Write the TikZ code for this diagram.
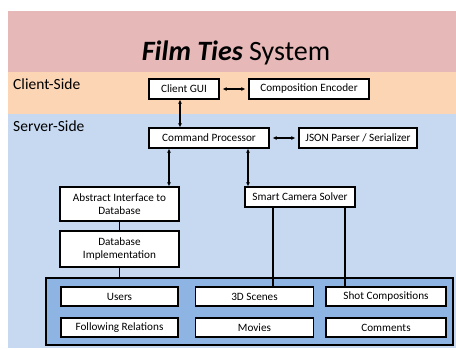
\documentclass[tikz,border=0pt]{standalone}
\usepackage{fontspec}
\setmainfont{Carlito}
\usetikzlibrary{arrows.meta}
\definecolor{bandpink}{HTML}{E6B9B8}
\definecolor{bandorange}{HTML}{FCD5B5}
\definecolor{bandblue}{HTML}{C6D9F1}
\definecolor{storeblue}{HTML}{8EB4E3}
\tikzset{
  block/.style={draw, line width=1.3pt, fill=white, inner sep=1pt, align=center,
    font=\fontsize{11.2}{12.5}\selectfont, minimum height=20pt},
  link/.style={line width=1.3pt},
  biarrow/.style={line width=1.3pt, {Latex[length=4pt,width=4pt]}-{Latex[length=4pt,width=4pt]}},
  sidelabel/.style={anchor=west, inner sep=0pt, font=\fontsize{15.5}{17}\selectfont}
}
\begin{document}
\begin{tikzpicture}[x=1pt,y=-1pt]
\useasboundingbox (0,0) rectangle (456,349);
\fill[bandpink] (8,11) rectangle (456,72);
\fill[bandorange] (8,72) rectangle (456,114);
\fill[bandblue] (8,114) rectangle (456,348);
\node (title) at (236,53) {\fontsize{28}{30}\selectfont{\bfseries\itshape Film Ties} System};
\node[sidelabel] (client) at (13,84) {Client-Side};
\node[sidelabel] (server) at (13,126) {Server-Side};
\node[block, minimum width=70pt] (gui) at (184,89) {Client GUI};
\node[block, minimum width=120pt] (enc) at (309,89) {Composition Encoder};
\node[block, minimum width=120pt] (cmd) at (209,138) {Command Processor};
\node[block, minimum width=118pt] (json) at (358,138) {JSON Parser / Serializer};
\node[block, minimum width=119pt, minimum height=34pt] (abs) at (119.5,204) {Abstract Interface to\\Database};
\node[block, minimum width=110pt] (smart) at (300,197) {Smart Camera Solver};
\node[block, minimum width=119pt, minimum height=36pt] (dbi) at (119.5,249) {Database\\Implementation};
\node[draw, line width=1.1pt, fill=storeblue, minimum width=407pt, minimum height=67pt] (store) at (249.5,311.5) {};
\node[block, minimum width=117pt, minimum height=19pt] (users) at (119.5,296.5) {Users};
\node[block, minimum width=117pt, minimum height=19pt] (follow) at (119.5,327.5) {Following Relations};
\node[block, minimum width=118pt, minimum height=19pt] (scenes) at (254.5,296.5) {3D Scenes};
\node[block, minimum width=118pt, minimum height=19pt] (movies) at (254.5,327.5) {Movies};
\node[block, minimum width=120pt, minimum height=19pt] (shots) at (386,296.5) {Shot Compositions};
\node[block, minimum width=120pt, minimum height=19pt] (comments) at (386,327.5) {Comments};
\draw[biarrow, shorten <=3pt, shorten >=3pt] (gui.east) -- (enc.west);
\draw[biarrow, shorten <=3pt, shorten >=3pt] (cmd.east) -- (json.west);
\draw[biarrow] ([xshift=-4pt]gui.south) -- ([xshift=-4pt]gui.south |- cmd.north);
\draw[biarrow] ([xshift=-40pt]cmd.south) -- ([xshift=-40pt]cmd.south |- abs.north);
\draw[biarrow] ([xshift=39pt]cmd.south) -- ([xshift=39pt]cmd.south |- smart.north);
\draw[link] (abs.south) -- (dbi.north);
\draw[link] (dbi.south) -- (dbi.south |- store.north);
\draw[link] ([xshift=-27pt]smart.south) -- ([xshift=-27pt]smart.south |- scenes.north);
\draw[link] ([xshift=45pt]smart.south) -- ([xshift=45pt]smart.south |- shots.north);
\end{tikzpicture}
\end{document}
